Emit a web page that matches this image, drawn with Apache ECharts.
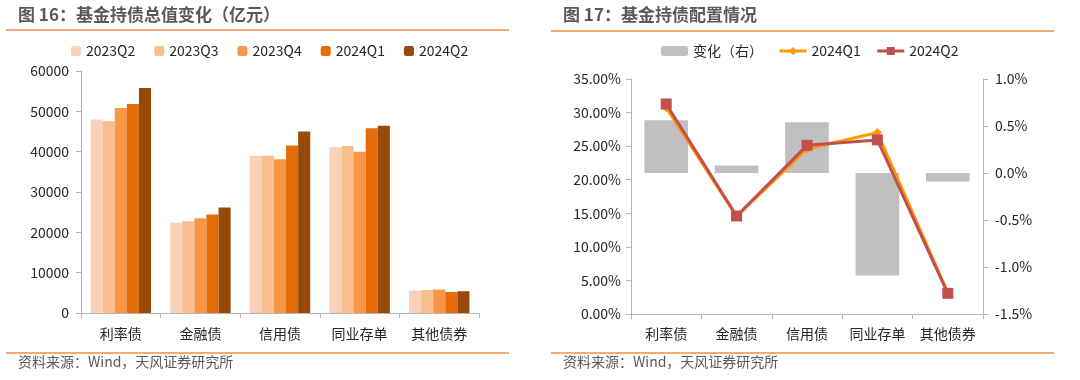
<!DOCTYPE html>
<html><head><meta charset="utf-8">
<script src="https://cdn.jsdelivr.net/npm/echarts@6/dist/echarts.min.js"></script>
<style>html,body{margin:0;padding:0;background:#fff}#c{width:1080px;height:380px}</style>
</head><body><div id="c"></div>
<script>
// ---- data ----
const categories = ['利率债','金融债','信用债','同业存单','其他债券'];
const quarters = ['2023Q2','2023Q3','2023Q4','2024Q1','2024Q2'];
const holdings = [
  [48000, 22400, 39000, 41100, 5550],   // 2023Q2
  [47600, 22750, 39000, 41400, 5700],   // 2023Q3
  [50800, 23500, 38150, 40000, 5800],   // 2023Q4
  [51800, 24400, 41550, 45800, 5200],   // 2024Q1
  [55800, 26150, 45000, 46400, 5400]    // 2024Q2
];
const share2024Q1 = [30.72, 14.52, 24.58, 27.02, 3.17];   // %
const share2024Q2 = [31.28, 14.60, 25.12, 25.93, 3.08];   // %
const shareChange = [0.56, 0.08, 0.54, -1.09, -0.09];     // %, right axis
const rightLegend = ['变化（右）','2024Q1','2024Q2'];
const leftTicks = {min:0, max:60000, interval:10000};
const shareTicks = {min:0, max:35, interval:5};
const changeTicks = {min:-1.5, max:1.0, interval:0.5};

const barColors = ['#FAD0B8','#F9BF8E','#F79646','#E46C0A','#984807'];
const FONT = '"Noto Sans CJK SC", "Noto Sans", sans-serif';
const axisGray = '#B4B4B4';
const txt = '#262626';
const SUF = '\u200b'; // keeps right-chart series names distinct from left-chart ones

const chart = echarts.init(document.getElementById('c'), null, {renderer:'canvas'});

const holdSeries = quarters.map((q,i)=>({
  name:q, type:'bar', xAxisIndex:0, yAxisIndex:0,
  data: holdings[i], barGap:'0%', barCategoryGap:'24%',
  itemStyle:{color:barColors[i]}
}));

const option = {
  animation:false,
  textStyle:{fontFamily:FONT},
  legend:[
    {data:quarters, left:71, top:44, padding:0, itemWidth:10, itemHeight:10, itemGap:19,
     textStyle:{fontSize:14, color:txt, fontFamily:FONT}},
    {data:rightLegend.map(n=>n+SUF), left:661, top:44, padding:0, itemWidth:27, itemHeight:10, itemGap:15,
     formatter:n=>n.replace(SUF,''), lineStyle:{width:3},
     textStyle:{fontSize:14, color:txt, fontFamily:FONT}}
  ],
  grid:[
    {left:81, right:601, top:71, bottom:67},
    {left:631, right:97, top:79, bottom:66}
  ],
  xAxis:[
    {type:'category', gridIndex:0, data:categories,
     axisLine:{lineStyle:{color:axisGray, width:1}},
     axisTick:{show:true, length:5, lineStyle:{color:axisGray}},
     axisLabel:{fontSize:14, color:txt, margin:14, interval:0, fontFamily:FONT}},
    {type:'category', gridIndex:1, data:categories,
     axisLine:{lineStyle:{color:axisGray, width:1}},
     axisTick:{show:true, length:5, lineStyle:{color:axisGray}},
     axisLabel:{fontSize:14, color:txt, margin:13, interval:0, fontFamily:FONT}}
  ],
  yAxis:[
    {type:'value', gridIndex:0, min:leftTicks.min, max:leftTicks.max, interval:leftTicks.interval,
     axisLine:{show:true, lineStyle:{color:axisGray}},
     axisTick:{show:true, length:5, lineStyle:{color:axisGray}},
     splitLine:{show:false},
     axisLabel:{fontSize:14, color:txt, margin:12, fontFamily:FONT, formatter:v=>String(v)}},
    {type:'value', gridIndex:1, min:shareTicks.min, max:shareTicks.max, interval:shareTicks.interval,
     axisLine:{show:true, lineStyle:{color:axisGray}},
     axisTick:{show:true, length:5, lineStyle:{color:axisGray}},
     splitLine:{show:false},
     axisLabel:{fontSize:14, color:txt, margin:10, fontFamily:FONT, formatter:v=>v.toFixed(2)+'%'}},
    {type:'value', gridIndex:1, position:'right', min:changeTicks.min, max:changeTicks.max, interval:changeTicks.interval,
     axisLine:{show:true, lineStyle:{color:axisGray}},
     axisTick:{show:true, length:5, lineStyle:{color:axisGray}},
     splitLine:{show:false},
     axisLabel:{fontSize:14, color:txt, margin:12, fontFamily:FONT, formatter:v=>v.toFixed(1)+'%'}}
  ],
  series:[
    ...holdSeries,
    {name:rightLegend[0]+SUF, type:'bar', xAxisIndex:1, yAxisIndex:2, data:shareChange,
     barCategoryGap:'38%', itemStyle:{color:'#C0C0C0'}},
    {name:rightLegend[1]+SUF, type:'line', xAxisIndex:1, yAxisIndex:1, data:share2024Q1,
     symbol:'diamond', symbolSize:9, lineStyle:{color:'#FF9A00', width:3},
     itemStyle:{color:'#FF9A00'}},
    {name:rightLegend[2]+SUF, type:'line', xAxisIndex:1, yAxisIndex:1, data:share2024Q2,
     symbol:'rect', symbolSize:11, lineStyle:{color:'#C0504D', width:3},
     itemStyle:{color:'#C0504D'}}
  ],
  graphic:[
    {type:'text', left:18, top:6, style:{text:'图 16：基金持债总值变化（亿元）', font:'bold 17px '+FONT, fill:'#595959'}},
    {type:'text', left:563, top:6, style:{text:'图 17：基金持债配置情况', font:'bold 17px '+FONT, fill:'#595959'}},
    {type:'line', shape:{x1:6,y1:30,x2:509,y2:30}, style:{stroke:'#F0904A', lineWidth:1.5}},
    {type:'line', shape:{x1:551,y1:31,x2:1054,y2:31}, style:{stroke:'#F0904A', lineWidth:1.5}},
    {type:'line', shape:{x1:6,y1:353,x2:509,y2:353}, style:{stroke:'#F0904A', lineWidth:1.5}},
    {type:'line', shape:{x1:551,y1:353,x2:1054,y2:353}, style:{stroke:'#F0904A', lineWidth:1.5}},
    {type:'text', left:18, top:355, style:{text:'资料来源：Wind，天风证券研究所', font:'14px '+FONT, fill:'#595959'}},
    {type:'text', left:563, top:355, style:{text:'资料来源：Wind，天风证券研究所', font:'14px '+FONT, fill:'#595959'}}
  ]
};
chart.setOption(option);
</script></body></html>
